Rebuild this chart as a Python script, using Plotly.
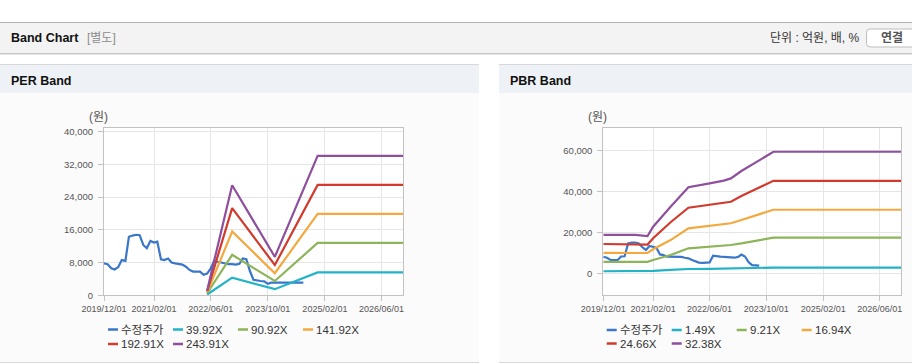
import plotly.graph_objects as go

W, H = 912, 364

# ---------------- DATA ----------------
x_tick_dates = ["2019-12-01", "2021-02-01", "2022-06-01", "2023-10-01", "2025-02-01", "2026-06-01"]
x_tick_labels = ["2019/12/01", "2021/02/01", "2022/06/01", "2023/10/01", "2025/02/01", "2026/06/01"]
x_range = ["2019-12-01", "2026-12-01"]

per_y_ticks = [0, 8000, 16000, 24000, 32000, 40000]
pbr_y_ticks = [0, 20000, 40000, 60000]

# PER band: adjusted price
per_price_dates = [
    "2019-12-01", "2020-01-01", "2020-02-01", "2020-03-01", "2020-04-01", "2020-05-01", "2020-06-01",
    "2020-07-01", "2020-08-01", "2020-09-01", "2020-10-01", "2020-11-01", "2020-12-01", "2021-01-01",
    "2021-02-01", "2021-03-01", "2021-04-01", "2021-05-01", "2021-06-01", "2021-07-01", "2021-08-01",
    "2021-09-01", "2021-10-01", "2021-11-01", "2021-12-01", "2022-01-01", "2022-02-01", "2022-03-01",
    "2022-04-01", "2022-05-01", "2022-06-01", "2022-07-01", "2022-08-01", "2022-09-01", "2022-10-01",
    "2022-11-01", "2022-12-01", "2023-01-01", "2023-02-01", "2023-03-01", "2023-04-01", "2023-05-01",
    "2023-06-01", "2023-07-01", "2023-08-01", "2023-09-01", "2023-10-01", "2023-11-01", "2023-12-01",
    "2024-01-01", "2024-02-01", "2024-03-01", "2024-04-01", "2024-05-01", "2024-06-01", "2024-07-01",
    "2024-08-01",
]
per_price = [
    7800, 7600, 6600, 6300, 6900, 8600, 8400,
    14300, 14600, 14800, 14700, 12300, 11500, 13300,
    12900, 13100, 8800, 8600, 9000, 8000, 7800,
    7700, 7500, 7000, 6200, 5800, 5800, 5800,
    5000, 5300, 6600, 8500, 8200, 8000, 7700,
    7600, 7600, 7500, 7700, 9000, 8800, 6000,
    3800, 3600, 3500, 3400, 2800, 3100, 3100,
    3100, 3100, 3100, 3100, 3100, 3100, 3100,
    3100,
]
per_band_dates = ["2022-05-01", "2022-12-01", "2023-12-01", "2024-12-01", "2026-12-01"]
per_band_39 = [200, 4300, 1500, 5600, 5600]
per_band_90 = [500, 9900, 3500, 12800, 12800]
per_band_141 = [700, 15600, 5400, 19900, 19900]
per_band_192 = [1000, 21300, 7400, 27000, 27000]
per_band_243 = [1200, 26900, 9400, 34100, 34100]

# PBR band: adjusted price
pbr_price_dates = [
    "2019-12-01", "2020-01-01", "2020-02-01", "2020-03-01", "2020-04-01", "2020-05-01", "2020-06-01",
    "2020-07-01", "2020-08-01", "2020-09-01", "2020-10-01", "2020-11-01", "2020-12-01", "2021-01-01",
    "2021-02-01", "2021-03-01", "2021-04-01", "2021-05-01", "2021-06-01", "2021-07-01", "2021-08-01",
    "2021-09-01", "2021-10-01", "2021-11-01", "2021-12-01", "2022-01-01", "2022-02-01", "2022-03-01",
    "2022-04-01", "2022-05-01", "2022-06-01", "2022-07-01", "2022-08-01", "2022-09-01", "2022-10-01",
    "2022-11-01", "2022-12-01", "2023-01-01", "2023-02-01", "2023-03-01", "2023-04-01", "2023-05-01",
    "2023-06-01", "2023-07-01", "2023-08-01",
]
pbr_price = [
    8100, 7600, 6500, 6300, 6400, 8200, 8300,
    14600, 15000, 15000, 14600, 12700, 11400, 13300,
    12700, 12500, 9200, 8900, 8100, 8100, 8000,
    8000, 8000, 7600, 7300, 6500, 6000, 5200,
    5100, 5200, 5300, 8600, 8200, 8100, 8000,
    7800, 7600, 7600, 8000, 9100, 8200, 5500,
    4000, 3800, 3700,
]
pbr_band_dates = [
    "2019-12-01", "2020-09-01", "2020-12-15", "2021-02-01", "2021-07-01", "2021-12-01", "2022-06-01",
    "2022-10-01", "2022-12-01", "2023-03-01", "2023-08-01", "2023-12-01", "2026-12-01",
]
pbr_band_1 = [1000, 1000, 1000, 1200, 1700, 2100, 2200, 2300, 2400, 2500, 2600, 2800, 2800]
pbr_band_9 = [5600, 5600, 5600, 6500, 8900, 12200, 13000, 13400, 13800, 14600, 16300, 17400, 17400]
pbr_band_16 = [10000, 10000, 9900, 11700, 16200, 21900, 23000, 23700, 24400, 26000, 28900, 31000, 31000]
pbr_band_24 = [14300, 14300, 14000, 17100, 24900, 32000, 33600, 34400, 34900, 37700, 42000, 45100, 45100]
pbr_band_32 = [18700, 18700, 18200, 22700, 32500, 42000, 43900, 45200, 46300, 49900, 55100, 59300, 59300]

per_names = ["수정주가", "39.92X", "90.92X", "141.92X", "192.91X", "243.91X"]
pbr_names = ["수정주가", "1.49X", "9.21X", "16.94X", "24.66X", "32.38X"]
colors = ["#3a76c9", "#22b3c6", "#8db458", "#f3a93f", "#d13b2d", "#8e4f9c"]

# ---------------- FIGURE ----------------
FONT = "Liberation Sans, Arial, Noto Sans CJK KR, sans-serif"
KFONT = "Liberation Sans, Noto Sans CJK KR, sans-serif"


def fx(x):
    return x / W


def fy(y):
    return 1 - y / H


fig = go.Figure()

per_series = [
    (per_price_dates, per_price), (per_band_dates, per_band_39), (per_band_dates, per_band_90),
    (per_band_dates, per_band_141), (per_band_dates, per_band_192), (per_band_dates, per_band_243),
]
pbr_series = [
    (pbr_price_dates, pbr_price), (pbr_band_dates, pbr_band_1), (pbr_band_dates, pbr_band_9),
    (pbr_band_dates, pbr_band_16), (pbr_band_dates, pbr_band_24), (pbr_band_dates, pbr_band_32),
]

for (xs, ys), name, col in zip(per_series, per_names, colors):
    fig.add_trace(go.Scatter(x=xs, y=ys, name=name, mode="lines",
                             line=dict(color=col, width=2.2), xaxis="x", yaxis="y", showlegend=False))
for (xs, ys), name, col in zip(pbr_series, pbr_names, colors):
    fig.add_trace(go.Scatter(x=xs, y=ys, name=name, mode="lines",
                             line=dict(color=col, width=2.2), xaxis="x2", yaxis="y2", showlegend=False))

# plot areas (pixels)
per_box = (104, 403, 128, 295.3)
pbr_box = (603.3, 901, 128.3, 295.3)

axis_common = dict(
    showgrid=True, gridcolor="#e6e6e6", gridwidth=1,
    showline=True, linecolor="#c2c2c2", linewidth=1, mirror=True,
    ticks="outside", ticklen=5, tickcolor="#c2c2c2",
    zeroline=False, fixedrange=True, automargin=False,
)
x_font = dict(family=FONT, size=9, color="#555555")
y_font = dict(family=FONT, size=9.5, color="#555555")

fig.update_layout(
    template="none",
    xaxis=dict(domain=[fx(per_box[0]), fx(per_box[1])], anchor="y", type="date", range=x_range,
               tickvals=x_tick_dates, ticktext=x_tick_labels, tickangle=0, tickfont=x_font, **axis_common),
    yaxis=dict(domain=[fy(per_box[3]), fy(per_box[2])], anchor="x", range=[0, 40900],
               tickvals=per_y_ticks, tickformat=",d", ticklabelstandoff=3, tickfont=y_font, **axis_common),
    xaxis2=dict(domain=[fx(pbr_box[0]), fx(pbr_box[1])], anchor="y2", type="date", range=x_range,
                tickvals=x_tick_dates, ticktext=x_tick_labels, tickangle=0, tickfont=x_font, **axis_common),
    yaxis2=dict(domain=[fy(pbr_box[3]), fy(pbr_box[2])], anchor="x2", range=[-10730, 70730],
                tickvals=pbr_y_ticks, tickformat=",d", ticklabelstandoff=3, tickfont=y_font, **axis_common),
)

shapes = []
annotations = []


def rect(x0, y0, x1, y1, fill, line=None):
    shapes.append(dict(type="rect", xref="paper", yref="paper", x0=fx(x0), x1=fx(x1), y0=fy(y1), y1=fy(y0),
                       fillcolor=fill, line=dict(width=1 if line else 0, color=line or fill), layer="below"))


def hline(x0, x1, y, color, width=1):
    shapes.append(dict(type="line", xref="paper", yref="paper", x0=fx(x0), x1=fx(x1), y0=fy(y), y1=fy(y),
                       line=dict(color=color, width=width), layer="below"))


def text(x, y, s, size=12, color="#333333", xanchor="left", family=KFONT):
    annotations.append(dict(xref="paper", yref="paper", x=fx(x), y=fy(y), text=s, showarrow=False,
                            xanchor=xanchor, yanchor="middle",
                            font=dict(size=size, color=color, family=family)))


# top header bar
rect(0, 22, W, 53, "#f3f3f3")
hline(0, W, 22.5, "#b3b3b3")
hline(0, W, 53.5, "#c6c6c6")
hline(0, W, 54.5, "#e6e6e6")
text(9, 38.5, "<b>Band Chart</b>", size=12.5, color="#111111")
text(85, 38.5, "[별도]", size=12, color="#8c8c8c")
text(862, 38.5, "단위 : 억원, 배, %", size=12, color="#333333", xanchor="right")
# button
shapes.append(dict(type="path", xref="paper", yref="paper", layer="below",
                   path=f"M {fx(930)},{fy(29)} L {fx(870)},{fy(29)} Q {fx(866.5)},{fy(29)} {fx(866.5)},{fy(32.5)} "
                        f"L {fx(866.5)},{fy(43.5)} Q {fx(866.5)},{fy(47)} {fx(870)},{fy(47)} L {fx(930)},{fy(47)} Z",
                   fillcolor="#ffffff", line=dict(color="#bdbdbd", width=1)))
text(892, 38.5, "<b>연결</b>", size=12, color="#555555", xanchor="center")

# panels
for (px0, px1, title, box) in [(0, 479, "PER Band", per_box), (499, W, "PBR Band", pbr_box)]:
    rect(px0, 64, px1, 363, "#fbfbfb")
    rect(px0, 64, px1, 93, "#eef2f7")
    hline(px0, px1, 64.5, "#d8d8d8")
    hline(px0, px1, 362.5, "#d8d8d8")
    text(px0 + 9, 80.5, f"<b>{title}</b>", size=12.5, color="#111111")
    rect(box[0], box[2], box[1], box[3], "#ffffff")
    text(box[0] + 6, 117, "(원)", size=12, color="#555555", xanchor="right")

# custom legends
for names, left, ys in [(per_names, 108, (329.5, 344)), (pbr_names, 606.7, (330, 343.5))]:
    for i, (name, col) in enumerate(zip(names, colors)):
        col_i, row_i = i % 4, i // 4
        x0 = left + col_i * 65
        y = ys[row_i]
        shapes.append(dict(type="line", xref="paper", yref="paper", x0=fx(x0), x1=fx(x0 + 10),
                           y0=fy(y), y1=fy(y), line=dict(color=col, width=2.5)))
        text(x0 + 11, y, name, size=11.5, color="#333333", family=FONT)

fig.update_layout(
    width=W, height=H, margin=dict(l=0, r=0, t=0, b=0, pad=0, autoexpand=False),
    paper_bgcolor="#ffffff", plot_bgcolor="rgba(0,0,0,0)",
    shapes=shapes, annotations=annotations, showlegend=False,
    font=dict(family=FONT, color="#555555"),
)

fig.write_html(
    "out.html",
    config={"displayModeBar": False, "responsive": False},
    post_script="document.body.style.margin='0';document.body.style.padding='0';"
                "document.body.style.overflow='hidden';",
)
